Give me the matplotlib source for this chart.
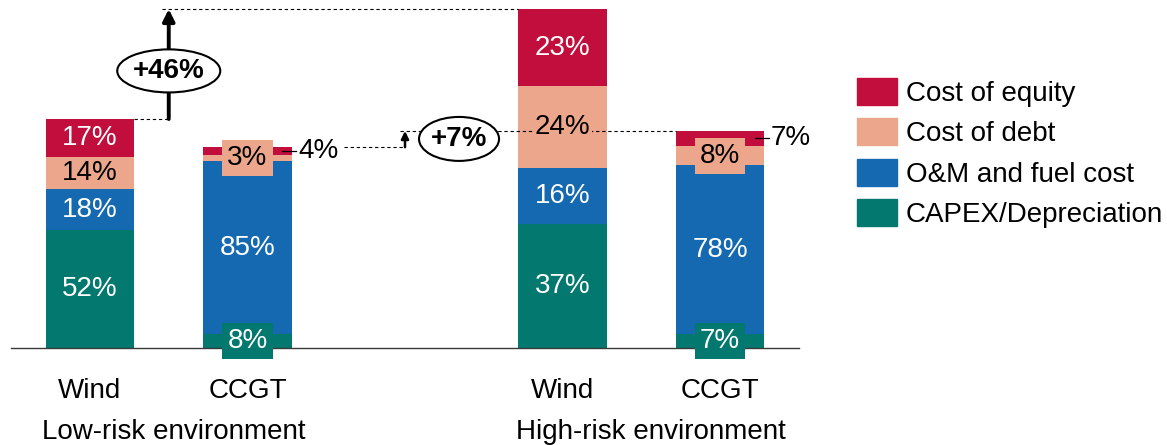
"""
Levelised cost breakdown: wind vs CCGT in low-risk and high-risk environments.
Stacked bars with share labels, total-increase callouts (+46%, +7%).
"""

import matplotlib.pyplot as plt
import matplotlib.patches as mpatches
from matplotlib.patches import Ellipse

plt.rcParams["font.family"] = ["Liberation Sans", "DejaVu Sans"]

# ── Data ──────────────────────────────────────────────────────────────────────

TECHS  = ["Wind", "CCGT", "Wind", "CCGT"]
GROUPS = ["Low-risk environment", "High-risk environment"]
X_POS  = [0, 1, 3, 4]

# Segment heights (index: low-risk wind = 100)
CAPEX  = [51.5, 6.1, 54.1, 6.1]
OM     = [17.9, 75.5, 24.5, 73.8]
DEBT   = [14.0, 2.6, 35.8, 8.3]
EQUITY = [16.6, 3.5, 33.6, 6.6]

# Share labels printed on the bars
CAPEX_LBL  = ["52%", "8%", "37%", "7%"]
OM_LBL     = ["18%", "85%", "16%", "78%"]
DEBT_LBL   = ["14%", "3%", "24%", "8%"]
EQUITY_LBL = ["17%", "4%", "23%", "7%"]

INCREASE_LBL = ["+46%", "+7%"]

SERIES = ["Cost of equity", "Cost of debt", "O&M and fuel cost", "CAPEX/Depreciation"]
COLORS = {
    "Cost of equity":     "#c20e3c",
    "Cost of debt":       "#eca68b",
    "O&M and fuel cost":  "#1569b0",
    "CAPEX/Depreciation": "#02786e",
}

# ── Figure ────────────────────────────────────────────────────────────────────

W_PX, H_PX = 1167, 445
fig = plt.figure(figsize=(W_PX / 100, H_PX / 100), dpi=100)
ax = fig.add_axes([0, 0, 1, 1])
ax.set_axis_off()

# map so that 1 x-unit = 157.5 px, 1 y-unit = 2.29 px, baseline 97 px from bottom
PX_X, PX_Y = 157.5, 2.29
ax.set_xlim(-90 / PX_X, (W_PX - 90) / PX_X)
ax.set_ylim(-97 / PX_Y, (H_PX - 97) / PX_Y)

BAR_W = 0.56
FS = 20

stacks = [
    (CAPEX,  CAPEX_LBL,  "CAPEX/Depreciation", "white"),
    (OM,     OM_LBL,     "O&M and fuel cost",  "white"),
    (DEBT,   DEBT_LBL,   "Cost of debt",       "black"),
    (EQUITY, EQUITY_LBL, "Cost of equity",     "white"),
]

bottoms = [0.0] * len(X_POS)
for vals, lbls, name, tcol in stacks:
    ax.bar(X_POS, vals, BAR_W, bottom=bottoms, color=COLORS[name],
           edgecolor="none", zorder=2)
    for i, (x, v, b, t) in enumerate(zip(X_POS, vals, bottoms, lbls)):
        yc = b + v / 2
        if TECHS[i] == "CCGT" and name == "Cost of equity":
            # outside label with short leader line
            ax.plot([x + 0.22, x + 0.31], [yc, yc], color="black", lw=0.9, zorder=4)
            ax.text(x + 0.32, yc, t, fontsize=FS, va="center", ha="left", zorder=5)
        elif TECHS[i] == "CCGT" and name in ("Cost of debt", "CAPEX/Depreciation"):
            ax.text(x, yc, t, fontsize=FS, va="center", ha="center", color=tcol,
                    zorder=5,
                    bbox=dict(boxstyle="square,pad=0.18", fc=COLORS[name], ec="none"))
        elif name == "Cost of debt":
            ax.text(x, yc, t, fontsize=FS, va="center", ha="center", color=tcol,
                    zorder=5,
                    bbox=dict(boxstyle="square,pad=0.05", fc=COLORS[name], ec="none"))
        else:
            ax.text(x, yc, t, fontsize=FS, va="center", ha="center", color=tcol, zorder=5)
    bottoms = [b + v for b, v in zip(bottoms, vals)]

totals = bottoms

# baseline
ax.plot([-0.5, 4.5], [0, 0], color="#3a3a3a", lw=1.0, zorder=3)

# category + group labels
for x, t in zip(X_POS, TECHS):
    ax.text(x, -18.8, t, fontsize=FS, ha="center", va="center")
ax.text(0.53, -36.6, GROUPS[0], fontsize=FS, ha="center", va="center")
ax.text(3.56, -36.6, GROUPS[1], fontsize=FS, ha="center", va="center")

# ── +46% callout (wind low -> wind high) ──
dash = dict(color="black", lw=0.8, linestyle=(0, (3, 2.5)), zorder=3)
ax.plot([X_POS[0] + BAR_W / 2, 0.5], [totals[0], totals[0]], **dash)
ax.plot([0.46, X_POS[2] - BAR_W / 2], [totals[2], totals[2]], **dash)
ax.annotate("", xy=(0.5, totals[2]), xytext=(0.5, totals[0]),
            arrowprops=dict(arrowstyle="-|>,head_width=0.35,head_length=0.7",
                            color="black", lw=2.8, shrinkA=0, shrinkB=0),
            zorder=4)
ax.add_patch(Ellipse((0.5, 121), 0.654, 18.8, fc="white", ec="black", lw=1.5, zorder=5))
ax.text(0.5, 121, INCREASE_LBL[0], fontsize=FS, fontweight="bold",
        ha="center", va="center", zorder=6)

# ── +7% callout (CCGT low -> CCGT high) ──
ax.plot([1.61, 2.0], [totals[1], totals[1]], **dash)
ax.plot([1.97, X_POS[3] - BAR_W / 2], [totals[3], totals[3]], **dash)
ax.annotate("", xy=(2.0, totals[3]), xytext=(2.0, totals[1]),
            arrowprops=dict(arrowstyle="-|>,head_width=0.22,head_length=0.45",
                            color="black", lw=1.8, shrinkA=0, shrinkB=0),
            zorder=4)
ax.add_patch(Ellipse((2.343, 91.3), 0.508, 19.2, fc="white", ec="black", lw=1.5, zorder=5))
ax.text(2.343, 91.3, INCREASE_LBL[1], fontsize=FS, fontweight="bold",
        ha="center", va="center", zorder=6)

# ── Legend ──
handles = [mpatches.Patch(color=COLORS[s], label=s) for s in SERIES]
fig.legend(handles=handles, loc="upper left", bbox_to_anchor=(857 / W_PX, 1 - 78 / H_PX),
           frameon=False, fontsize=FS, handlelength=1.45, handleheight=1.1,
           handletextpad=0.3, labelspacing=0.42, borderpad=0, borderaxespad=0)

fig.savefig("out.png", dpi=100)
